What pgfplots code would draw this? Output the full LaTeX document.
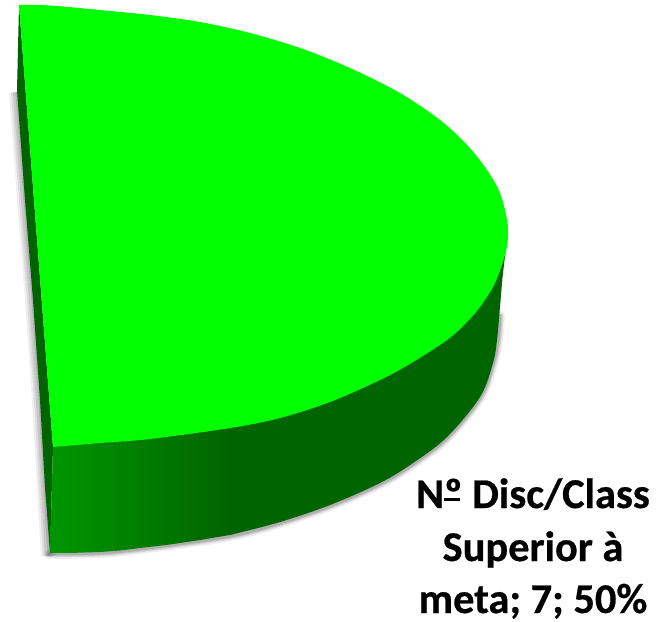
\documentclass[border=0pt]{standalone}
\usepackage{fontspec}
\setmainfont{Carlito}[BoldFeatures={FakeBold=0.6}]
\usepackage{pgfplots}
\pgfplotsset{compat=1.18}
\definecolor{topgreen}{RGB}{0,255,0}
\definecolor{sidedark}{RGB}{0,100,0}
\definecolor{sidelight}{RGB}{0,150,0}
% #1 width beside the left wall, #2 width along the rim, #3 opacity
\newcommand{\shadowlayer}[3]{%
\addplot[draw=black!60, fill=none, line width=#1pt, opacity=#3] coordinates {
    (17,92) (25,200) (33,300) (40,400) (45,487) (49,556)
};
\addplot[draw=black!60, fill=none, line width=#2pt, opacity=#3, line cap=round, smooth, tension=0.55] coordinates {
    (49,554) (100,553) (140,549) (200,541) (240,534) (280,523) (330,506) (380,484)
    (413,464) (447,438) (480,398) (493,364) (498,340) (500,316)
};}
\begin{document}
\begin{tikzpicture}
\path[use as bounding box] (0,0) rectangle (658pt,621pt);
\begin{axis}[
    at={(0,0)},
    anchor=south west,
    scale only axis,
    width=658pt,
    height=621pt,
    xmin=0, xmax=658,
    ymin=0, ymax=621,
    y dir=reverse,
    hide axis,
    clip=false]
% drop shadow
\shadowlayer{16}{10}{0.10}
\shadowlayer{12}{7}{0.14}
\shadowlayer{8}{5}{0.18}
\shadowlayer{3}{3}{0.25}
% left cut wall
\addplot[draw=none, fill=sidedark] coordinates {
    (19,5) (17,90) (25,200) (33,300) (40,400) (45,487) (50,553) (53,447)
};
% rim, flat part: outer edge, then inside (overlapping, so no seam shows)
\addplot[draw=none, fill=sidedark, smooth, tension=0.55] coordinates {
    (508,233) (503,273) (500,307) (497,340) (493,363) (480,397) (447,437)
    (413,463) (380,483) (330,505) (280,522) (230,535)
};
\addplot[draw=none, fill=sidedark] coordinates {
    (230,300) (508,233) (470,400) (400,462) (300,514) (230,534.5)
};
% rim, shaded part
\addplot[draw=none, left color=sidelight, right color=sidedark] coordinates {
    (50,553) (75,552.8) (100,552) (120,550.5) (140,548) (170,544.5) (200,540) (231,534.8) (231,420) (53,420) (53,447)
};
% top face
\addplot[draw=none, fill=topgreen, smooth, tension=0.55] coordinates {
    (19,5) (50,5.5) (100,10) (150,15) (200,22) (250,33) (300,48) (350,68)
    (400,93) (440,120) (467,145) (487,170) (500,193) (507,220) (508,237)
    (505,255) (495,283) (480,307) (465,324) (447,340) (413,362) (380,380)
    (330,402) (280,418) (230,428) (150,439) (100,443) (53,447)
};
\tikzset{lab/.style={anchor=base, font=\fontsize{42.4}{50}\selectfont\bfseries, inner sep=0pt}}
\node[lab] at (axis cs:533,508) {N\makebox[0pt][l]{\raisebox{0.17em}{\rule{0.37em}{0.06em}}}º Disc/Class};
\node[lab] at (axis cs:533,561) {Superior à};
\node[lab] at (axis cs:533,613) {meta; 7; 50\%};
\end{axis}
\end{tikzpicture}
\end{document}
